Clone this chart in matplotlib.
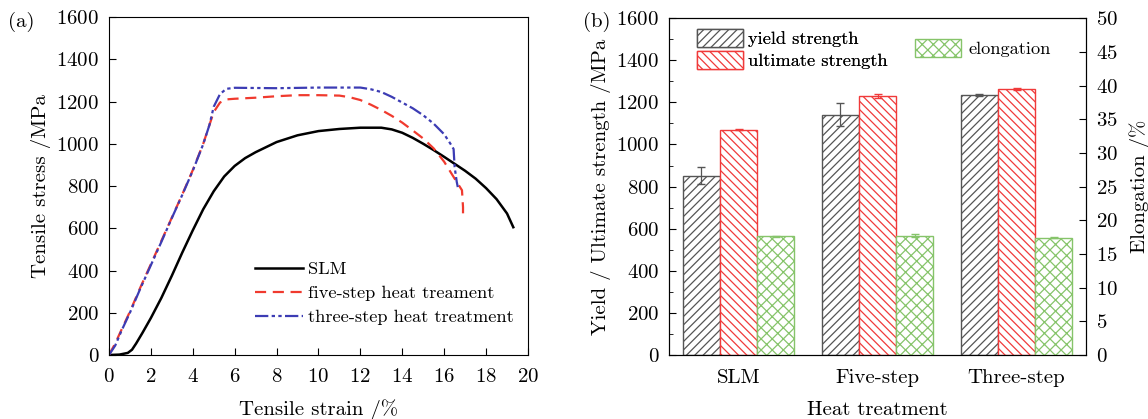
import numpy as np
import matplotlib.pyplot as plt

plt.rcParams['font.family'] = ['cmr10', 'DejaVu Serif']
plt.rcParams['font.size'] = 15
plt.rcParams['axes.formatter.use_mathtext'] = True
plt.rcParams['hatch.linewidth'] = 0.9

# (a) stress-strain curves
slm_x = [0, 0.5, 0.9, 1.1, 1.3, 1.6, 2.0, 2.5, 3.0, 3.5, 4.0, 4.5, 5.0, 5.5, 6.0,
         6.5, 7.0, 8.0, 9.0, 10.0, 11.0, 12.0, 13.0, 13.5, 14.0, 14.5, 15.0, 15.5,
         16.0, 16.5, 17.0, 17.5, 18.0, 18.5, 19.0, 19.3]
slm_y = [0, 2, 10, 25, 55, 105, 175, 270, 375, 485, 590, 690, 775, 845, 895,
         932, 960, 1008, 1040, 1060, 1070, 1076, 1076, 1068, 1052, 1028, 1000, 970,
         938, 905, 872, 835, 790, 738, 670, 605]

five_x = [0, 0.3, 0.6, 1.0, 1.5, 2.0, 2.5, 3.0, 3.5, 4.0, 4.5, 4.8, 5.0, 5.3, 5.6,
          6.0, 7.0, 8.0, 9.0, 10.0, 11.0, 11.5, 12.0, 12.5, 13.0, 13.5, 14.0, 14.5,
          15.0, 15.5, 16.0, 16.5, 16.85, 16.9, 16.9]
five_y = [0, 55, 120, 205, 320, 430, 540, 650, 760, 875, 1000, 1090, 1150, 1195, 1210,
          1213, 1218, 1225, 1230, 1230, 1228, 1220, 1207, 1185, 1160, 1132, 1100, 1063,
          1025, 978, 915, 835, 780, 700, 655]

three_x = [0, 0.3, 0.6, 1.0, 1.5, 2.0, 2.5, 3.0, 3.5, 4.0, 4.5, 4.8, 5.0, 5.3, 5.6,
           6.0, 8.0, 10.0, 12.0, 12.5, 13.0, 13.5, 14.0, 14.5, 15.0, 15.5, 16.0,
           16.3, 16.45, 16.5, 16.6, 16.65]
three_y = [0, 45, 115, 200, 315, 425, 535, 648, 758, 872, 998, 1090, 1175, 1235, 1260,
           1265, 1263, 1266, 1266, 1258, 1245, 1222, 1195, 1168, 1135, 1095, 1045,
           1000, 975, 890, 820, 795]

# (b) strength / elongation bars
groups = ['SLM', 'Five-step', 'Three-step']
yield_str = [852, 1141, 1234]
yield_err = [41, 55, 5]
ult_str = [1071, 1231, 1264]
ult_err = [3, 9, 6]
elong = [17.6, 17.7, 17.4]
elong_err = [0.1, 0.2, 0.1]

fig = plt.figure(figsize=(11.48, 4.19), dpi=100)

ax1 = fig.add_axes([0.0949, 0.1527, 0.365, 0.8067])
ax1.plot(slm_x, slm_y, color='black', lw=1.8, label='SLM')
ax1.plot(five_x, five_y, color='#f03a2e', lw=1.6, ls=(0, (5, 3)),
         label='five-step heat treament')
ax1.plot(three_x, three_y, color='#3c3cb4', lw=1.6,
         ls=(0, (6, 1.5, 1.5, 1.5, 1.5, 1.5)), label='three-step heat treatment')
ax1.set_xlim(0, 20)
ax1.set_ylim(0, 1600)
ax1.set_xticks(np.arange(0, 21, 2))
ax1.set_yticks(np.arange(0, 1601, 200))
ax1.tick_params(axis='x', direction='in', length=5, pad=9)
ax1.tick_params(axis='y', direction='in', length=5, pad=7)
ax1.set_xlabel('Tensile strain /%', labelpad=10)
ax1.set_ylabel('Tensile stress /MPa', labelpad=4)
ax1.legend(loc='upper left', bbox_to_anchor=(0.327, 0.305), frameon=False,
           borderpad=0, fontsize=13.2, handlelength=2.6, handletextpad=0.3,
           labelspacing=0.45)
fig.text(0.007, 0.947, '(a)', ha='left', va='center')

ax2 = fig.add_axes([0.5828, 0.1527, 0.3632, 0.804])
ax3 = ax2.twinx()
idx = np.arange(len(groups))
w = 0.268

b1 = ax2.bar(idx - w, yield_str, w, color='white', edgecolor='#555555',
             hatch='////', lw=1.0, label='yield strength')
b2 = ax2.bar(idx, ult_str, w, color='white', edgecolor='#f03a3a',
             hatch='\\\\\\\\', lw=1.0, label='ultimate strength')
ax2.errorbar(idx - w, yield_str, yerr=yield_err, fmt='none', ecolor='#555555',
             elinewidth=0.9, capsize=3)
ax2.errorbar(idx, ult_str, yerr=ult_err, fmt='none', ecolor='#f03a3a',
             elinewidth=0.9, capsize=3)
b3 = ax3.bar(idx + w, elong, w, color='white', edgecolor='#86c46a',
             hatch='xxx', lw=1.0, label='elongation')
ax3.errorbar(idx + w, elong, yerr=elong_err, fmt='none', ecolor='#86c46a',
             elinewidth=0.9, capsize=3)

ax2.set_xlim(-0.5, 2.5)
ax2.set_ylim(0, 1600)
ax3.set_ylim(0, 50)
ax2.set_yticks(np.arange(0, 1601, 200))
ax2.set_yticks(np.arange(100, 1600, 200), minor=True)
ax3.set_yticks(np.arange(0, 51, 5))
ax2.set_xticks(idx)
ax2.set_xticklabels(groups)
ax2.tick_params(axis='x', length=0, pad=10)
ax2.tick_params(axis='y', direction='in', length=5, pad=7)
ax2.tick_params(axis='y', which='minor', direction='in', length=3)
ax3.tick_params(axis='y', direction='in', length=5, pad=7)
ax2.set_xlabel('Heat treatment', labelpad=10)
ax2.set_ylabel('Yield / Ultimate strength /MPa', labelpad=4)
ax3.set_ylabel('Elongation /%', labelpad=8)

leg = ax2.legend(handles=[b1, b2], loc='upper left', bbox_to_anchor=(0.045, 0.995),
                 frameon=False, borderpad=0, fontsize=13.2, handlelength=2.5,
                 handleheight=1.15, handletextpad=0.3, labelspacing=0.2)
ax2.add_artist(leg)
ax3.legend(handles=[b3], loc='upper left', bbox_to_anchor=(0.568, 0.965),
           frameon=False, borderpad=0, fontsize=13.2, handlelength=2.5,
           handleheight=1.15, handletextpad=0.4)
fig.text(0.508, 0.947, '(b)', ha='left', va='center')

fig.savefig('out.png', dpi=100)
